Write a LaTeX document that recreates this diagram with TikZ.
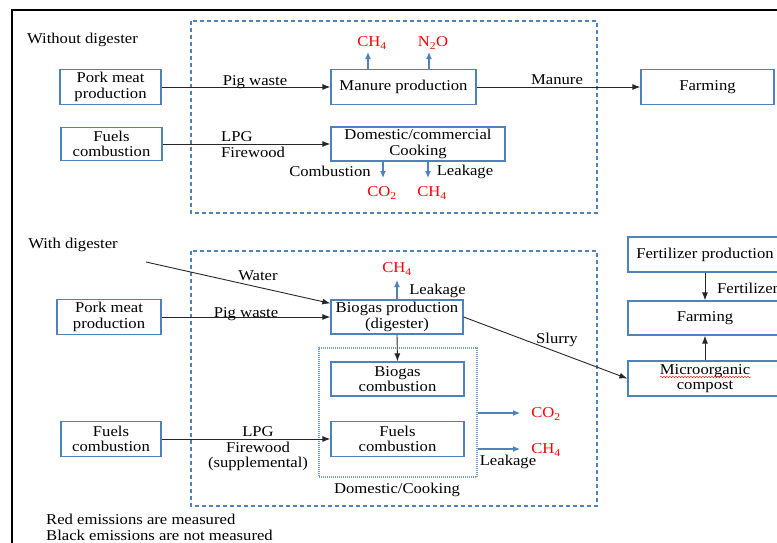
\documentclass[tikz,border=0pt]{standalone}
\usepackage{fontspec}
\setmainfont{Liberation Serif}[FakeStretch=1.11]
\usepackage{xcolor}
\usepackage{tikz}
\usetikzlibrary{arrows.meta,decorations.pathmorphing}
\definecolor{boxblue}{RGB}{79,129,189}
\definecolor{gasred}{RGB}{255,0,0}
\newcommand{\gas}[2]{#1\textsubscript{#2}}
\tikzset{
  box/.style={draw=boxblue, line width=1.3pt, align=center, inner sep=0.5pt},
  flow/.style={draw=black!85, line width=0.9pt, -{Latex[length=8pt,width=6pt]}},
  emit/.style={draw=boxblue, line width=1.2pt, -{Latex[length=7pt,width=6pt]}},
  gastext/.style={text=gasred, inner sep=0pt},
  zone/.style={draw=boxblue, line width=1.2pt, dash pattern=on 4pt off 3pt},
  cookzone/.style={draw=boxblue!80, line width=1.4pt, dash pattern=on 1pt off 1pt}
}

\begin{document}
\begin{tikzpicture}[x=1pt, y=-1pt, font=\fontsize{15}{15.5}\selectfont]
\useasboundingbox (0,0) rectangle (777,542);
\clip (0,0) rectangle (777,542);
\draw[line width=1.8pt] (12,560) -- (12,10) -- (790,10);

\draw[zone] (191,21) rectangle (597,213);
\draw[zone] (191,251) rectangle (597,506);

\node at (82.5,40)  (without) {Without digester};
\node at (110.5,87) [box, minimum width=101pt, minimum height=35pt] (pork1) {Pork meat\\production};
\node at (111.5,144) [box, minimum width=101pt, minimum height=33pt] (fuels1) {Fuels\\combustion};
\node at (403.5,87) [box, minimum width=145pt, minimum height=35pt] (manure) {Manure production};
\node at (418,144)  [box, minimum width=174pt, minimum height=34pt] (cooking) {Domestic/commercial\\Cooking};
\node at (707.5,87) [box, minimum width=133pt, minimum height=35pt] (farming1) {Farming};

\draw[flow] (pork1.east) -- (manure.west);
\draw[flow] (fuels1.east) -- (cooking.west);
\draw[flow] (manure.east) -- (farming1.west);
\node at (255,82) (pigw1) {Pig waste};
\node at (221,144.5) [anchor=west, align=left, inner sep=0pt] (lpg1) {LPG\\Firewood};
\node at (557,80) (manurelbl) {Manure};

\coordinate (ch4up) at (368,52);
\coordinate (n2oup) at (429,52);
\draw[emit] (manure.north -| ch4up) -- (ch4up);
\draw[emit] (manure.north -| n2oup) -- (n2oup);
\node at (372,43) [gastext] (ch4a) {\gas{CH}{4}};
\node at (433,43) [gastext] (n2oa) {N\textsubscript{2}O};

\coordinate (co2down) at (383,178);
\coordinate (ch4down) at (428,178);
\draw[emit] (cooking.south -| co2down) -- (co2down);
\draw[emit] (cooking.south -| ch4down) -- (ch4down);
\node at (330,171) (comblbl) {Combustion};
\node at (465,172) (leak1) {Leakage};
\node at (382,193) [gastext] (co2a) {\gas{CO}{2}};
\node at (432,193) [gastext] (ch4b) {\gas{CH}{4}};

\node at (73,245)   (with) {With digester};
\node at (109,317)  [box, minimum width=104pt, minimum height=35pt] (pork2) {Pork meat\\production};
\node at (111,439)  [box, minimum width=100pt, minimum height=35pt] (fuels2) {Fuels\\combustion};
\node at (397,317)  [box, minimum width=132pt, minimum height=34pt] (biogas) {Biogas production\\(digester)};
\node at (398,412.5) [cookzone, minimum width=158pt, minimum height=129pt] (domestic) {};
\node at (397.5,379) [box, minimum width=133pt, minimum height=34pt] (biocomb) {Biogas\\combustion};
\node at (397.5,439) [box, minimum width=133pt, minimum height=35pt] (fuelcomb) {Fuels\\combustion};
\node at (397,490)  (domlbl) {Domestic/Cooking};
\node at (705,254.5) [box, minimum width=154pt, minimum height=35pt] (fert) {Fertilizer production};
\node at (705,318)  [box, minimum width=154pt, minimum height=34pt] (farming2) {Farming};
\node at (705,378.5) [box, minimum width=154pt, minimum height=35pt] (compost) {Microorganic\\compost};

\coordinate (waterin) at (146,262);
\draw[flow] (waterin) -- ([yshift=-4pt]biogas.north west);
\draw[flow] (pork2.east) -- (biogas.west);
\draw[flow] (fuels2.east) -- (fuelcomb.west);
\draw[flow] (biogas.south) -- (biocomb.north);
\draw[flow] (biogas.east) -- (compost.west);
\draw[flow] (fert.south) -- (farming2.north);
\draw[flow] (compost.north) -- (farming2.south);
\node at (258,276) (waterlbl) {Water};
\node at (246,314) (pigw2) {Pig waste};
\node at (258,449) [align=center, inner sep=0pt] (lpg2) {LPG\\Firewood\\(supplemental)};
\node at (557,340) (slurry) {Slurry};
\node at (717,288) [anchor=west, inner sep=0pt] (fertlbl) {Fertilizer};
\draw[gasred, line width=0.4pt, decorate, decoration={snake, amplitude=0.8pt, segment length=3pt}]
  (660,377) -- (751,377);

\coordinate (ch4top) at (397,280);
\draw[emit] (biogas.north -| ch4top) -- (ch4top);
\node at (397,269) [gastext] (ch4c) {\gas{CH}{4}};
\node at (437.5,291) (leak2) {Leakage};

\coordinate (co2out) at (520,413);
\coordinate (ch4out) at (520,449);
\draw[emit] (domestic.east |- co2out) -- (co2out);
\draw[emit] (domestic.east |- ch4out) -- (ch4out);
\node at (546,414) [gastext] (co2b) {\gas{CO}{2}};
\node at (546,450) [gastext] (ch4d) {\gas{CH}{4}};
\node at (508,462) (leak3) {Leakage};

\node at (46,519) [anchor=west, inner sep=0pt] (note1) {Red emissions are measured};
\node at (46,535) [anchor=west, inner sep=0pt] (note2) {Black emissions are not measured};
\end{tikzpicture}
\end{document}
